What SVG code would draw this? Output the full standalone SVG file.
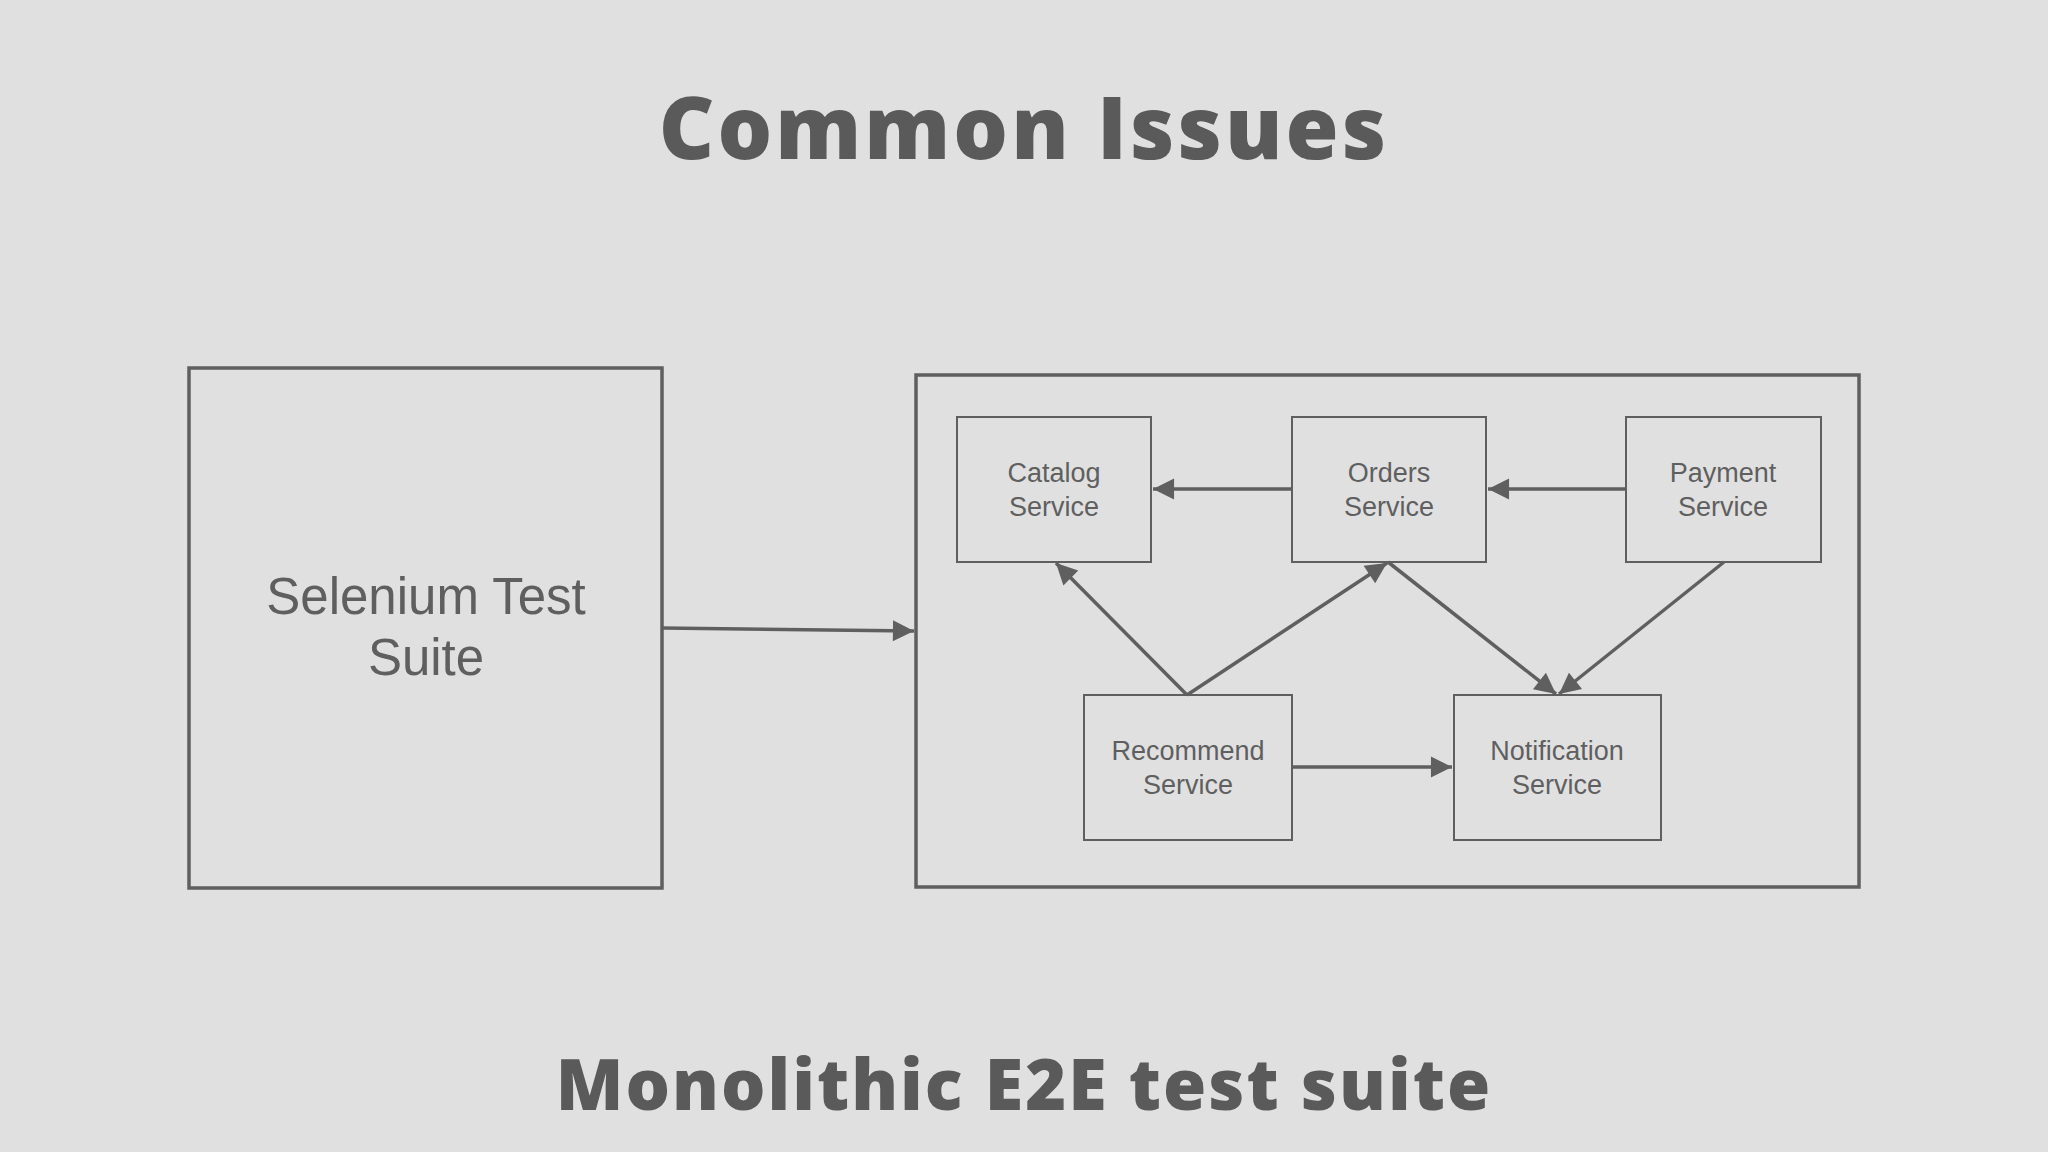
<svg xmlns="http://www.w3.org/2000/svg" width="2048" height="1152" viewBox="0 0 2048 1152">
<style>
.t{font-family:"Open Sans","Liberation Sans",sans-serif;font-weight:800;fill:#5a5a5a;text-anchor:middle}
.n rect{fill:none;stroke:#5f5f5f;stroke-width:2}
.n text{font-family:"Liberation Sans",Arial,sans-serif;font-size:27px;fill:#5f5f5f;text-anchor:middle}
.big{fill:none;stroke:#5f5f5f;stroke-width:3.5}
.c line{stroke:#5f5f5f;stroke-width:3.5;marker-end:url(#a)}
</style>
<defs><marker id="a" viewBox="0 0 10 10" refX="10" refY="5" markerWidth="7" markerHeight="7" markerUnits="userSpaceOnUse" orient="auto" style="overflow:visible"><path d="M0,0L10,5L0,10z" fill="#5f5f5f" transform="scale(3) translate(-6.7,-3.35)"/></marker></defs>
<rect width="2048" height="1152" fill="#e0e0e0"/>
<text class="t" x="1024" y="159" font-size="86" letter-spacing="3">Common Issues</text>
<text class="t" x="1024" y="1110" font-size="70" letter-spacing="2">Monolithic E2E test suite</text>
<g id="selenium"><rect class="big" x="189" y="368" width="473" height="520"/>
<text font-family="Liberation Sans,Arial,sans-serif" font-size="51" fill="#5f5f5f" text-anchor="middle"><tspan x="426" y="614">Selenium Test</tspan><tspan x="426" y="675">Suite</tspan></text></g>
<g id="system"><rect class="big" x="916" y="375" width="943" height="512"/></g>
<g id="catalog" class="n"><rect x="957" y="417" width="194" height="145"/><text><tspan x="1054" y="482">Catalog</tspan><tspan x="1054" y="516">Service</tspan></text></g>
<g id="orders" class="n"><rect x="1292" y="417" width="194" height="145"/><text><tspan x="1389" y="482">Orders</tspan><tspan x="1389" y="516">Service</tspan></text></g>
<g id="payment" class="n"><rect x="1626" y="417" width="195" height="145"/><text><tspan x="1723" y="482">Payment</tspan><tspan x="1723" y="516">Service</tspan></text></g>
<g id="recommend" class="n"><rect x="1084" y="695" width="208" height="145"/><text><tspan x="1188" y="760">Recommend</tspan><tspan x="1188" y="794">Service</tspan></text></g>
<g id="notification" class="n"><rect x="1454" y="695" width="207" height="145"/><text><tspan x="1557" y="760">Notification</tspan><tspan x="1557" y="794">Service</tspan></text></g>
<g id="connectors" class="c">
<line x1="662" y1="628" x2="914" y2="631"/>
<line x1="1292" y1="489" x2="1153" y2="489"/>
<line x1="1626" y1="489" x2="1488" y2="489"/>
<line x1="1187" y1="695" x2="1056" y2="563"/>
<line x1="1187" y1="695" x2="1387" y2="563"/>
<line x1="1388" y1="562" x2="1556" y2="694"/>
<line x1="1724" y1="562" x2="1559" y2="694"/>
<line x1="1292" y1="767" x2="1452" y2="767"/>
</g>
</svg>
